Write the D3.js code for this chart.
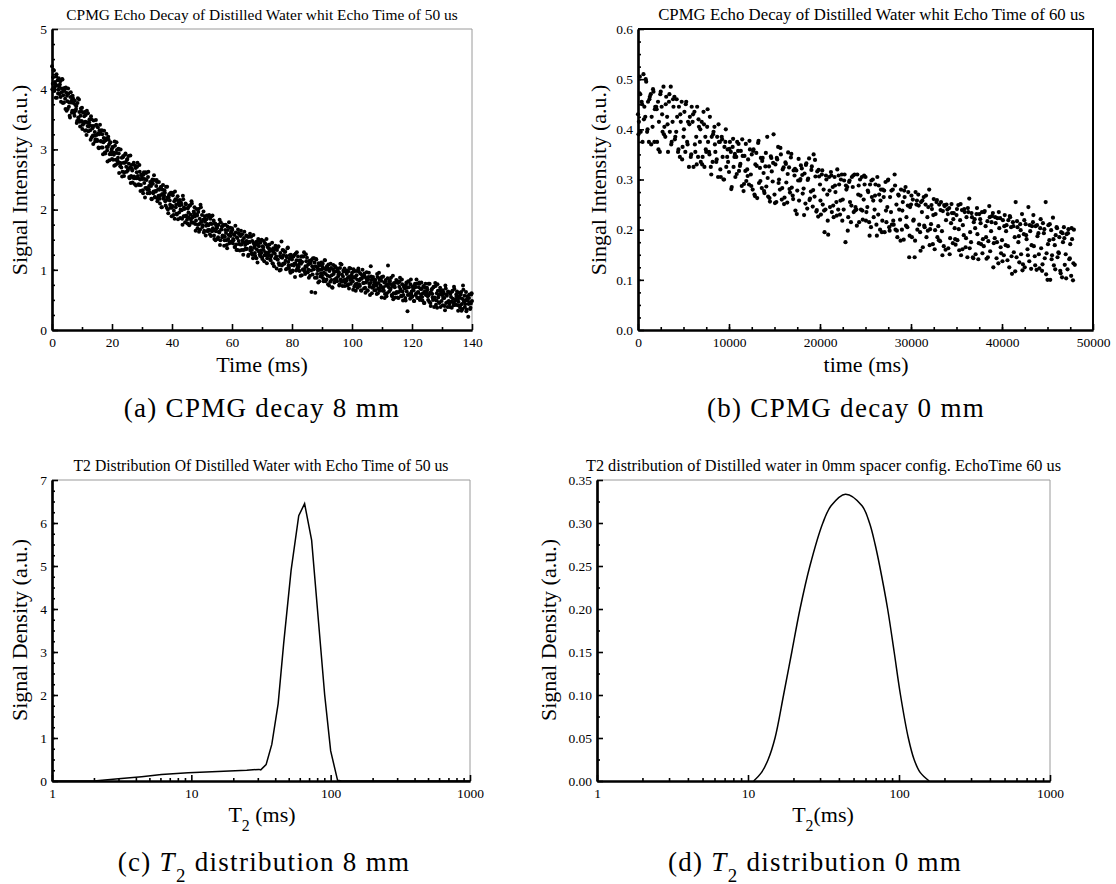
<!DOCTYPE html>
<html>
<head>
<title>CPMG decay and T2 distributions</title>
<script src="https://d3js.org/d3.v7.min.js"></script>
<style>
  body { margin: 0; background: #fff; }
</style>
</head>
<body>
<svg id="fig" width="1116" height="884"></svg>
<script>
// (a) echo amplitudes, one value every 0.25 ms from 0 to 140 ms
var stepA = 0.25;
var echoA = [
  4.38,4.09,4.32,3.97,4.12,3.86,4.25,4.06,3.93,4.18,
  3.92,4.13,3.79,4.01,4.16,3.90,3.78,4.00,3.67,3.94,
  3.89,3.67,3.93,3.78,3.53,3.95,3.81,3.64,3.85,3.64,
  3.56,3.74,3.67,3.44,3.77,3.53,3.83,3.46,3.56,3.63,
  3.69,3.41,3.45,3.55,3.31,3.57,3.24,3.45,3.60,3.38,
  3.50,3.32,3.55,3.20,3.35,3.09,3.39,3.29,3.17,3.41,
  3.16,3.37,3.03,3.25,3.41,3.14,3.03,3.25,2.92,3.19,
  3.14,2.93,3.18,3.04,2.80,3.21,3.08,2.92,3.12,2.92,
  2.84,3.03,2.95,2.73,3.06,2.83,3.12,2.76,2.86,2.93,
  3.00,2.72,2.77,2.86,2.63,2.89,2.56,2.78,2.93,2.71,
  2.83,2.65,2.89,2.54,2.70,2.44,2.74,2.65,2.53,2.78,
  2.52,2.73,2.40,2.62,2.78,2.52,2.41,2.63,2.31,2.58,
  2.53,2.32,2.58,2.44,2.20,2.62,2.49,2.33,2.54,2.34,
  2.27,2.46,2.39,2.17,2.50,2.27,2.57,2.21,2.31,2.39,
  2.46,2.18,2.23,2.33,2.10,2.37,2.04,2.26,2.41,2.20,
  2.32,2.14,2.38,2.03,2.20,1.94,2.24,2.15,2.03,2.28,
  2.03,2.24,1.91,2.14,2.30,2.04,1.93,2.16,1.84,2.11,
  2.07,1.86,2.12,1.99,1.75,2.17,2.04,1.89,2.10,1.90,
  1.83,2.02,1.95,1.74,2.07,1.84,2.14,1.79,1.89,1.97,
  2.04,1.76,1.82,1.92,1.69,1.96,1.63,1.85,2.08,1.80,
  1.91,1.74,1.97,1.65,1.80,1.57,1.84,1.76,1.66,1.88,
  1.66,1.85,1.56,1.76,1.90,1.67,1.57,1.77,1.49,1.73,
  1.70,1.51,1.75,1.62,1.41,1.79,1.67,1.54,1.73,1.56,
  1.49,1.66,1.61,1.41,1.72,1.51,1.79,1.46,1.56,1.63,
  1.69,1.44,1.49,1.58,1.38,1.62,1.33,1.53,1.67,1.48,
  1.59,1.42,1.65,1.33,1.49,1.25,1.53,1.45,1.35,1.57,
  1.35,1.55,1.25,1.46,1.60,1.37,1.27,1.48,1.19,1.44,
  1.41,1.23,1.46,1.34,1.12,1.51,1.39,1.26,1.45,1.28,
  1.21,1.39,1.33,1.14,1.44,1.24,1.51,1.19,1.28,1.36,
  1.42,1.18,1.22,1.32,1.11,1.36,1.06,1.27,1.40,1.22,
  1.33,1.17,1.39,1.08,1.23,1.00,1.47,1.20,1.10,1.32,
  1.11,1.30,1.01,1.21,1.36,1.13,1.03,1.24,0.95,1.20,
  1.17,0.99,1.22,1.10,0.88,1.27,1.16,1.02,1.22,1.05,
  0.98,1.16,1.10,0.91,1.22,1.01,1.29,0.97,1.06,1.14,
  1.20,0.96,1.00,1.10,0.90,1.14,0.63,1.06,1.19,1.01,
  1.12,0.62,1.18,0.87,1.03,0.79,1.07,1.00,0.89,1.12,
  0.91,1.10,0.81,1.02,1.16,0.93,0.84,1.04,0.76,1.01,
  0.98,0.80,1.03,0.91,0.70,1.08,0.97,0.84,1.04,0.86,
  0.81,0.98,0.92,0.74,1.03,0.84,1.09,0.80,0.89,0.97,
  1.02,0.79,0.84,0.93,0.74,0.97,0.69,0.89,1.02,0.85,
  0.95,0.81,1.01,0.72,0.87,0.65,0.91,0.84,0.74,0.97,
  0.75,0.94,0.66,0.85,1.00,0.78,0.69,0.89,0.62,0.86,
  0.82,0.65,0.88,0.77,0.58,1.06,0.83,0.70,0.88,0.72,
  0.66,0.83,0.78,0.60,0.88,0.69,0.95,0.65,0.74,0.82,
  0.88,0.65,0.71,0.79,0.60,0.83,0.56,0.76,1.07,0.71,
  0.81,0.67,0.87,0.58,0.73,0.51,0.78,0.71,0.61,0.83,
  0.62,0.81,0.53,0.72,0.87,0.65,0.56,0.76,0.49,0.73,
  0.70,0.53,0.75,0.64,0.31,0.81,0.71,0.58,0.76,0.60,
  0.55,0.72,0.66,0.48,0.77,0.58,0.84,0.54,0.63,0.71,
  0.77,0.54,0.59,0.68,0.49,0.72,0.45,0.64,0.77,0.60,
  0.70,0.56,0.77,0.47,0.62,0.40,0.67,0.60,0.50,0.72,
  0.51,0.78,0.42,0.61,0.76,0.54,0.46,0.65,0.38,0.62,
  0.58,0.41,0.63,0.53,0.33,0.69,0.59,0.46,0.64,0.48,
  0.43,0.60,0.55,0.37,0.65,0.46,0.72,0.42,0.51,0.59,
  0.64,0.41,0.47,0.56,0.37,0.59,0.32,0.52,0.74,0.48,
  0.57,0.43,0.63,0.34,0.49,0.22,0.53,0.46,0.37,0.59,
  0.48
];
// (a) the echoes in between, starting at 0.125 ms
var echoA2 = [
  4.00,4.20,4.31,4.03,4.08,4.21,3.86,4.15,3.99,4.04,
  4.08,3.87,3.95,4.17,3.77,3.97,4.02,3.84,4.03,3.64,
  3.80,4.01,3.71,3.56,3.87,3.78,3.61,3.89,3.77,3.61,
  3.81,3.64,3.72,3.47,3.85,3.50,3.62,3.38,3.68,3.47,
  3.34,3.61,3.43,3.62,3.46,3.32,3.64,3.39,3.30,3.45,
  3.40,3.16,3.50,3.39,3.23,3.48,3.23,3.13,3.49,3.24,
  3.14,3.27,3.02,3.32,3.27,3.13,3.32,3.03,3.12,3.31,
  2.95,3.15,3.26,2.98,3.04,3.16,2.82,3.11,2.95,3.00,
  3.04,2.83,2.91,3.13,2.74,2.94,2.99,2.81,3.01,2.61,
  2.78,3.00,2.70,2.55,2.87,2.78,2.62,2.91,2.79,2.63,
  2.84,2.68,2.76,2.52,2.90,2.56,2.68,2.45,2.75,2.55,
  2.42,2.69,2.52,2.71,2.56,2.42,2.74,2.50,2.41,2.57,
  2.51,2.27,2.62,2.51,2.36,2.61,2.36,2.27,2.63,2.39,
  2.29,2.42,2.18,2.48,2.43,2.30,2.49,2.20,2.30,2.49,
  2.14,2.34,2.46,2.18,2.24,2.38,2.04,2.33,2.18,2.23,
  2.28,2.07,2.16,2.38,2.00,2.20,2.26,2.08,2.28,1.89,
  2.06,2.28,1.98,1.85,2.17,2.08,1.92,2.22,2.10,1.95,
  2.16,2.00,2.08,1.85,2.23,1.89,2.01,1.79,2.09,1.89,
  1.77,2.04,1.87,2.07,1.92,1.78,2.10,1.87,1.78,1.94,
  1.89,1.65,2.01,1.90,1.75,2.01,1.76,1.67,2.04,1.80,
  1.71,1.83,1.62,1.89,1.84,1.73,1.90,1.64,1.74,1.91,
  1.59,1.77,1.89,1.64,1.69,1.82,1.51,1.77,1.64,1.69,
  1.73,1.54,1.63,1.83,1.49,1.67,1.72,1.57,1.75,1.40,
  1.55,1.75,1.49,1.36,1.66,1.58,1.44,1.70,1.61,1.47,
  1.66,1.51,1.59,1.38,1.73,1.42,1.54,1.33,1.61,1.43,
  1.32,1.56,1.42,1.59,1.46,1.33,1.63,1.41,1.34,1.48,
  1.44,1.23,1.55,1.46,1.32,1.55,1.33,1.25,1.58,1.37,
  1.28,1.41,1.19,1.47,1.42,1.31,1.48,1.23,1.32,1.50,
  1.18,1.37,1.48,1.24,1.29,1.42,1.11,1.38,1.24,1.30,
  1.34,1.16,1.24,1.45,1.10,1.29,1.34,1.19,1.37,1.02,
  1.17,1.38,1.11,0.99,1.28,1.21,1.07,1.33,1.24,1.10,
  1.30,1.15,1.23,1.02,1.37,1.07,1.18,0.98,1.25,1.08,
  0.97,1.22,1.07,1.25,1.11,0.99,1.29,1.07,1.00,1.15,
  1.11,0.90,1.22,1.13,1.00,1.22,1.01,0.93,1.26,1.05,
  0.96,1.09,0.87,1.15,1.11,0.99,1.17,0.92,1.01,1.19,
  0.87,1.06,1.17,0.93,0.99,1.11,0.81,1.08,0.94,1.00,
  1.05,0.86,0.95,1.16,0.81,1.00,1.06,0.90,1.09,0.74,
  0.89,1.10,0.83,0.71,1.01,0.93,0.79,1.06,0.97,0.83,
  1.02,0.89,0.96,0.76,1.10,0.81,0.92,0.73,0.99,0.83,
  0.73,0.97,0.82,0.99,0.87,0.76,1.03,0.83,0.77,0.91,
  0.87,0.67,0.97,0.88,0.76,0.98,0.77,0.70,1.02,0.82,
  0.73,0.85,0.65,0.91,0.88,0.78,0.94,0.70,0.79,0.96,
  0.66,0.84,0.95,0.72,0.78,0.89,0.61,0.86,0.74,0.79,
  0.83,0.66,0.74,0.93,0.61,0.78,0.84,0.70,0.87,0.54,
  0.70,0.89,0.65,0.53,0.81,0.74,0.61,0.86,0.76,0.64,
  0.82,0.69,0.76,0.56,0.90,0.61,0.73,0.54,0.79,0.63,
  0.54,0.78,0.63,0.80,0.68,0.57,0.84,0.64,0.58,0.72,
  0.69,0.49,0.79,0.70,0.58,0.80,0.60,0.52,0.84,0.64,
  0.56,0.68,0.48,0.74,0.71,0.61,0.77,0.53,0.62,0.79,
  0.50,0.68,0.79,0.55,0.61,0.73,0.45,0.70,0.58,0.63,
  0.67,0.50,0.58,0.77,0.45,0.62,0.68,0.54,0.71,0.38,
  0.54,0.73,0.49,0.37,0.65,0.58,0.45,0.70,0.60,0.48,
  0.66,0.53,0.60,0.40,0.74,0.45,0.57,0.38,0.63,0.47,
  0.38,0.62,0.47,0.64,0.52,0.41,0.68,0.48,0.42,0.56,
  0.52,0.32,0.62,0.53,0.41,0.63,0.43,0.35,0.67,0.47,
  0.38,0.50,0.31,0.56,0.53,0.43,0.59,0.35,0.44,0.61
];

// (b) echo amplitudes, one value every 100 ms from 0 to 48000 ms
var stepB = 100;
var echoB = [
  .430,.415,.505,.395,.455,.375,.510,.445,.425,.495,
  .395,.455,.375,.465,.470,.425,.405,.475,.375,.445,
  .445,.375,.455,.415,.355,.475,.445,.395,.485,.405,
  .385,.465,.425,.355,.455,.395,.485,.375,.415,.445,
  .465,.385,.395,.425,.355,.445,.345,.415,.455,.365,
  .385,.435,.355,.455,.375,.415,.325,.425,.345,.445,
  .415,.325,.435,.355,.385,.445,.345,.405,.375,.335,
  .415,.345,.435,.325,.385,.355,.405,.375,.355,.425,
  .325,.385,.335,.395,.405,.355,.335,.385,.305,.375,
  .375,.305,.385,.345,.300,.365,.375,.325,.345,.335,
  .315,.375,.355,.285,.365,.325,.345,.305,.345,.375,
  .357,.317,.327,.357,.287,.347,.277,.347,.317,.297,
  .320,.340,.290,.360,.310,.350,.280,.360,.270,.330,
  .353,.263,.373,.293,.323,.343,.283,.343,.313,.273,
  .326,.286,.385,.266,.326,.256,.346,.316,.296,.390,
  .270,.330,.255,.340,.365,.300,.280,.350,.260,.320,
  .324,.264,.334,.294,.254,.354,.324,.274,.344,.284,
  .268,.318,.308,.238,.318,.278,.298,.258,.298,.328,
  .322,.272,.282,.312,.252,.332,.242,.302,.342,.262,
  .276,.326,.246,.350,.266,.306,.236,.316,.226,.306,
  .290,.230,.310,.250,.280,.195,.240,.300,.270,.190,
  .305,.245,.315,.235,.285,.225,.305,.275,.255,.320,
  .240,.290,.230,.300,.310,.260,.240,.310,.175,.280,
  .285,.225,.295,.255,.215,.305,.285,.235,.310,.245,
  .240,.310,.270,.215,.300,.240,.305,.220,.260,.290,
  .305,.235,.245,.275,.215,.290,.205,.265,.300,.225,
  .240,.290,.210,.305,.230,.270,.200,.280,.195,.280,
  .265,.195,.295,.215,.245,.300,.205,.265,.235,.210,
  .280,.210,.310,.200,.250,.185,.270,.240,.220,.280,
  .200,.255,.180,.265,.285,.225,.205,.275,.145,.245,
  .250,.185,.260,.220,.145,.275,.250,.200,.270,.210,
  .195,.255,.235,.165,.265,.205,.250,.185,.225,.245,
  .280,.201,.211,.241,.171,.261,.161,.231,.255,.185,
  .207,.250,.177,.255,.197,.237,.167,.247,.160,.250,
  .240,.163,.243,.183,.213,.233,.173,.233,.203,.170,
  .229,.179,.249,.159,.219,.149,.239,.209,.189,.235,
  .165,.225,.145,.235,.262,.195,.175,.225,.145,.215,
  .221,.151,.231,.191,.141,.231,.221,.171,.235,.181,
  .167,.237,.207,.142,.217,.177,.247,.157,.197,.227,
  .233,.173,.183,.213,.143,.223,.133,.203,.223,.153,
  .179,.219,.149,.229,.169,.209,.139,.219,.125,.225,
  .205,.112,.215,.155,.185,.255,.145,.205,.175,.135,
  .211,.151,.231,.131,.191,.125,.211,.181,.161,.245,
  .137,.197,.122,.207,.215,.167,.147,.207,.120,.187,
  .193,.123,.203,.163,.118,.213,.193,.143,.255,.153,
  .100,.209,.179,.100,.199,.149,.224,.129,.169,.189,
  .205,.145,.155,.185,.118,.195,.105,.175,.205,.130,
  .151,.191,.121,.201,.141,.171,.108,.181,.099,.200,
  .130
];
// (b) more echoes, one every 200 ms starting at 50 ms
var stepB2 = 200;
var echoB2 = [
  .39,.47,.45,.42,.50,.40,.46,.37,.48,.44,
  .44,.36,.47,.43,.39,.45,.41,.47,.37,.46,
  .38,.46,.36,.43,.34,.40,.45,.37,.41,.35,
  .43,.37,.33,.42,.40,.33,.41,.36,.44,.35,
  .31,.39,.37,.34,.41,.32,.38,.30,.40,.36,
  .361,.281,.381,.351,.311,.371,.331,.38,.291,.371,
  .307,.377,.287,.357,.267,.327,.377,.297,.337,.277,
  .353,.303,.263,.343,.333,.253,.343,.293,.363,.283,
  .251,.331,.311,.281,.351,.261,.321,.231,.341,.301,
  .309,.229,.329,.299,.259,.319,.279,.339,.239,.319,
  .258,.318,.238,.308,.218,.278,.308,.248,.288,.228,
  .308,.258,.218,.298,.288,.198,.298,.248,.308,.238,
  .208,.288,.268,.238,.308,.218,.278,.188,.298,.258,
  .268,.188,.288,.258,.218,.278,.238,.298,.198,.278,
  .218,.288,.198,.268,.178,.238,.278,.208,.248,.188,
  .268,.218,.178,.258,.248,.158,.258,.208,.268,.198,
  .169,.249,.229,.199,.259,.179,.239,.149,.249,.219,
  .231,.151,.251,.221,.181,.241,.201,.251,.161,.241,
  .183,.243,.163,.233,.143,.203,.243,.173,.213,.153,
  .235,.185,.145,.225,.215,.125,.225,.175,.235,.165,
  .137,.207,.197,.167,.227,.147,.207,.117,.217,.187,
  .199,.119,.219,.189,.149,.209,.169,.229,.129,.209,
  .151,.221,.131,.201,.111,.171,.211,.141,.181,.121,
  .203,.153,.113,.193,.183,.103,.193,.143,.203,.133
];

// (c) T2 distribution, 8 mm
var t2C = [1, 2, 3, 4.4, 6.1, 9.5, 15.5, 25, 30.5, 31.5, 34.4, 37.8, 42, 46, 52, 59, 65, 73, 90.6, 100, 112, 120, 1000];
var densC = [0, 0, 0.05, 0.1, 0.15, 0.19, 0.22, 0.25, 0.27, 0.26, 0.38, 0.85, 1.8, 3.2, 4.9, 6.17, 6.45, 5.6, 2.0, 0.7, 0.02, 0, 0];

// (d) T2 distribution, 0 mm
var t2D = [10.9, 12.3, 13.6, 15.1, 17.2, 19.5, 22.1, 25.7, 31.3, 35.5, 44.2, 56.9, 63.8, 69.5, 74.5, 84.1, 92.9, 102.3, 115.3, 125.9, 138, 158.5];
var densD = [0, 0.01, 0.025, 0.05, 0.10, 0.15, 0.20, 0.25, 0.30, 0.32, 0.3335, 0.32, 0.30, 0.275, 0.25, 0.20, 0.15, 0.10, 0.05, 0.025, 0.01, 0];

var FONT = "Liberation Serif";
var svg = d3.select("#fig").attr("font-family", FONT);

function logMinors(lo, hi) {
  var out = [];
  for (var d = lo; d < hi; d *= 10)
    for (var k = 2; k <= 9; k++) out.push(d * k);
  return out;
}

function panel(o) {
  var x = o.x, y = o.y;
  var x0 = x.range()[0], x1 = x.range()[1], y0 = y.range()[0], y1 = y.range()[1];
  var g = svg.append("g");

  // top and right sides of the frame
  g.append("path")
    .attr("d", "M" + x0 + "," + y1 + "H" + x1 + "V" + y0)
    .attr("fill", "none")
    .attr("stroke", o.frame)
    .attr("stroke-width", o.frameW);

  var xMin = g.append("g").attr("transform", "translate(0," + y0 + ")")
    .call(d3.axisBottom(x).tickValues(o.xMinor).tickSizeInner(-3).tickSizeOuter(0).tickFormat(""));
  var xMaj = g.append("g").attr("transform", "translate(0," + y0 + ")")
    .call(d3.axisBottom(x).tickValues(o.xMajor).tickSizeInner(-6).tickSizeOuter(0).tickPadding(5).tickFormat(o.xFmt));
  var yMin = g.append("g").attr("transform", "translate(" + x0 + ",0)")
    .call(d3.axisLeft(y).tickValues(o.yMinor).tickSizeInner(-3).tickSizeOuter(0).tickFormat(""));
  var yMaj = g.append("g").attr("transform", "translate(" + x0 + ",0)")
    .call(d3.axisLeft(y).tickValues(o.yMajor).tickSizeInner(-6).tickSizeOuter(0).tickPadding(5).tickFormat(o.yFmt));

  [xMin, xMaj, yMin, yMaj].forEach(function(a) {
    a.attr("font-family", FONT).attr("font-size", 13.5);
    a.selectAll("text").attr("fill", "#000");
    a.selectAll("line").attr("stroke", "#000").attr("stroke-width", 1.6);
    a.selectAll(".domain").attr("stroke", "#000").attr("stroke-width", 2.2);
  });
  xMaj.selectAll("text").attr("dy", "0.9em");

  g.append("text")
    .attr("x", (x0 + x1) / 2 + (o.titleDx || 0)).attr("y", y1 - 9)
    .attr("font-size", o.titleSize).attr("text-anchor", "middle").text(o.title);

  return g;
}

function xLabel(g, cx, cy, before, after) {
  var t = g.append("text").attr("x", cx).attr("y", cy).attr("font-size", 22).attr("text-anchor", "middle");
  if (after === undefined) { t.text(before); return; }
  t.append("tspan").text(before);
  t.append("tspan").attr("baseline-shift", "sub").attr("font-size", "0.72em").text("2");
  t.append("tspan").text(after);
}
function yLabel(g, cx, cy, s) {
  g.append("text").attr("transform", "translate(" + cx + "," + cy + ") rotate(-90)")
    .attr("font-size", 22).attr("text-anchor", "middle").text(s);
}
function dots(g, x, y, vals, step, offset, r) {
  g.append("g").selectAll("circle").data(vals).enter().append("circle")
    .attr("cx", function(d, i) { return x(offset + i * step); })
    .attr("cy", function(d) { return y(d); })
    .attr("r", r).attr("fill", "#000");
}

// ---- (a)
var xA = d3.scaleLinear().domain([0, 140]).range([52, 472]);
var yA = d3.scaleLinear().domain([0, 5]).range([330, 29]);
var gA = panel({
  x: xA, y: yA, frame: "#9a9a9a", frameW: 1,
  xMajor: d3.range(0, 141, 20), xMinor: d3.range(10, 140, 20), xFmt: d3.format("d"),
  yMajor: d3.range(0, 6, 1), yMinor: d3.range(0.25, 5, 0.25), yFmt: d3.format("d"),
  title: "CPMG Echo Decay of Distilled Water whit Echo Time of 50 us", titleSize: 15.4
});
dots(gA, xA, yA, echoA, stepA, 0, 2);
dots(gA, xA, yA, echoA2, stepA, stepA / 2, 2);
xLabel(gA, 262, 372, "Time (ms)");
yLabel(gA, 27, 180, "Signal Intensity (a.u.)");

// ---- (b)
var xB = d3.scaleLinear().domain([0, 50000]).range([638, 1093]);
var yB = d3.scaleLinear().domain([0, 0.6]).range([330, 29]);
var gB = panel({
  x: xB, y: yB, frame: "#000", frameW: 2,
  xMajor: d3.range(0, 50001, 10000), xMinor: d3.range(2500, 50000, 2500), xFmt: d3.format("d"),
  yMajor: d3.range(0, 0.61, 0.1), yMinor: d3.range(0.025, 0.6, 0.025), yFmt: d3.format(".1f"),
  title: "CPMG Echo Decay of Distilled Water whit Echo Time of 60 us", titleSize: 16.8, titleDx: 6
});
dots(gB, xB, yB, echoB, stepB, 0, 2.1);
dots(gB, xB, yB, echoB2, stepB2, 50, 2.1);
xLabel(gB, 866, 372, "time (ms)");
yLabel(gB, 606, 180, "Singal Intensity (a.u.)");

// ---- (c)
var xC = d3.scaleLog().domain([1, 1000]).range([52, 470]);
var yC = d3.scaleLinear().domain([0, 7]).range([781, 480]);
var gC = panel({
  x: xC, y: yC, frame: "#9a9a9a", frameW: 1,
  xMajor: [1, 10, 100, 1000], xMinor: logMinors(1, 1000), xFmt: d3.format("d"),
  yMajor: d3.range(0, 8, 1), yMinor: d3.range(0.25, 7, 0.25), yFmt: d3.format("d"),
  title: "T2 Distribution Of Distilled Water with Echo Time of 50 us", titleSize: 15.7
});
gC.append("path").datum(t2C.map(function(t, i) { return [t, densC[i]]; }))
  .attr("fill", "none").attr("stroke", "#000").attr("stroke-width", 1.5)
  .attr("d", d3.line().x(function(d) { return xC(d[0]); }).y(function(d) { return yC(d[1]); }));
xLabel(gC, 262, 822, "T", " (ms)");
yLabel(gC, 27, 630, "Signal Density (a.u.)");

// ---- (d)
var xD = d3.scaleLog().domain([1, 1000]).range([597, 1050]);
var yD = d3.scaleLinear().domain([0, 0.35]).range([781, 480]);
var gD = panel({
  x: xD, y: yD, frame: "#9a9a9a", frameW: 1,
  xMajor: [1, 10, 100, 1000], xMinor: logMinors(1, 1000), xFmt: d3.format("d"),
  yMajor: d3.range(0, 0.351, 0.05), yMinor: d3.range(0.025, 0.35, 0.05), yFmt: d3.format(".2f"),
  title: "T2 distribution of Distilled water in 0mm spacer config. EchoTime 60 us", titleSize: 16.3
});
gD.append("path").datum(t2D.map(function(t, i) { return [t, densD[i]]; }))
  .attr("fill", "none").attr("stroke", "#000").attr("stroke-width", 1.5)
  .attr("d", d3.line().curve(d3.curveCatmullRom.alpha(0.5)).x(function(d) { return xD(d[0]); }).y(function(d) { return yD(d[1]); }));
xLabel(gD, 823, 822, "T", "(ms)");
yLabel(gD, 556, 630, "Signal Density (a.u.)");

// ---- sub-figure captions
function caption(cx, cy, letter, rest, t2) {
  var t = svg.append("text").attr("x", cx).attr("y", cy)
    .attr("font-size", 27).attr("letter-spacing", 1.3).attr("text-anchor", "middle");
  if (!t2) { t.text("(" + letter + ") " + rest); return; }
  t.append("tspan").text("(" + letter + ") ");
  t.append("tspan").attr("font-style", "italic").text("T");
  t.append("tspan").attr("baseline-shift", "sub").attr("font-size", "0.7em").text("2");
  t.append("tspan").text(" " + rest);
}
caption(262, 417, "a", "CPMG decay 8 mm", false);
caption(846, 417, "b", "CPMG decay 0 mm", false);
caption(264, 871, "c", "distribution 8 mm", true);
caption(815, 871, "d", "distribution 0 mm", true);
</script>
</body>
</html>
